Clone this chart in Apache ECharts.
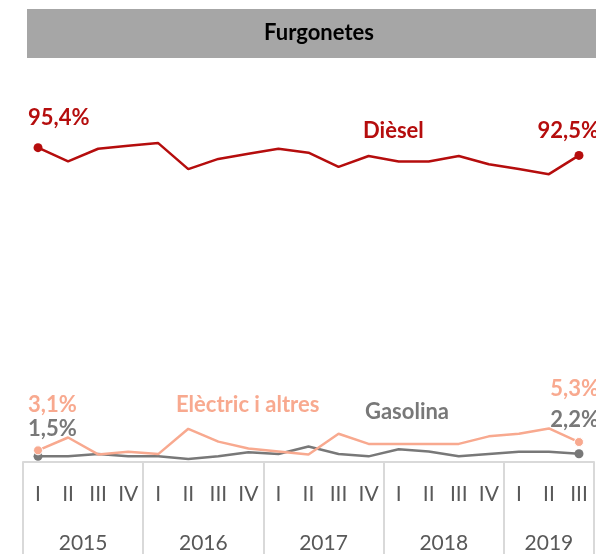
<!DOCTYPE html>
<html>
<head>
<meta charset="utf-8">
<script src="https://cdn.jsdelivr.net/npm/echarts@6/dist/echarts.min.js"></script>
<style>
  html, body { margin: 0; padding: 0; background: #fff; }
  #mainChart { width: 596px; height: 554px; }
</style>
</head>
<body>
<div id="mainChart"></div>
<script>
// trimestres i anys
var quarters = ['I','II','III','IV','I','II','III','IV','I','II','III','IV','I','II','III','IV','I','II','III'];
var years = ['2015','2016','2017','2018','2019'];
var yearCenters = [2, 6, 10, 14, 17.5];
var yearBounds = [0, 4, 8, 12, 16, 19];

// quota (%) per tipus de combustible
var diesel = [95.4, 90.3, 95.0, 96.1, 97.1, 87.4, 91.2, 93.1, 95.0, 93.5, 88.2, 92.3, 90.2, 90.2, 92.3, 89.2, 87.4, 85.5, 92.5];
var electric = [3.1, 6.5, 2.0, 2.7, 2.1, 8.8, 5.4, 3.6, 2.8, 2.0, 7.5, 4.8, 4.8, 4.8, 4.8, 6.8, 7.5, 8.9, 5.3];
var gasolina = [1.5, 1.5, 2.1, 1.5, 1.5, 0.8, 1.5, 2.6, 2.1, 4.1, 2.1, 1.5, 3.4, 2.8, 1.5, 2.1, 2.7, 2.7, 2.2];

var fontF = 'Lato, "Open Sans", sans-serif';
var cDiesel = '#b50d0d';
var cElec = '#f8a98f';
var cGas = '#787878';

function fmt(v) {
  return v.toFixed(1).replace('.', ',') + '%';
}

// només el primer i l'últim punt porten etiqueta
function withEnds(values, color, firstDy, lastDy) {
  var last = values.length - 1;
  return values.map(function (v, i) {
    if (i === 0 || i === last) {
      return {
        value: v,
        label: {
          show: true,
          position: 'inside',
          align: i === 0 ? 'left' : 'right',
          verticalAlign: 'middle',
          offset: i === 0 ? [-10, firstDy] : [20, lastDy],
          formatter: fmt(v),
          color: color,
          fontFamily: fontF,
          fontWeight: 'bold',
          fontSize: 22
        }
      };
    }
    return v;
  });
}

function endSize(v, params) {
  return (params.dataIndex === 0 || params.dataIndex === quarters.length - 1) ? 9 : 0;
}

var mainChart = echarts.init(document.getElementById('mainChart'));
mainChart.setOption({
  backgroundColor: '#fff',
  animation: false,
  graphic: [
    {
      type: 'rect',
      shape: { x: 27, y: 9, width: 569, height: 49 },
      style: { fill: '#a6a6a6' }
    },
    {
      type: 'text',
      x: 319, y: 33,
      style: {
        text: 'Furgonetes', fill: '#000', font: 'bold 22px ' + fontF,
        textAlign: 'center', textVerticalAlign: 'middle'
      }
    },
    {
      type: 'text',
      x: 363, y: 131,
      style: {
        text: 'Dièsel', fill: cDiesel, font: 'bold 22px ' + fontF,
        textAlign: 'left', textVerticalAlign: 'middle'
      }
    },
    {
      type: 'text',
      x: 176, y: 405,
      style: {
        text: 'Elèctric i altres', fill: cElec, font: 'bold 22px ' + fontF,
        textAlign: 'left', textVerticalAlign: 'middle'
      }
    },
    {
      type: 'text',
      x: 365, y: 412,
      style: {
        text: 'Gasolina', fill: cGas, font: 'bold 22px ' + fontF,
        textAlign: 'left', textVerticalAlign: 'middle'
      }
    }
  ],
  grid: { left: 23, right: 2, top: 85, bottom: 89 },
  xAxis: [
    {
      type: 'category',
      data: quarters,
      boundaryGap: true,
      axisLine: { show: true, onZero: false, lineStyle: { color: '#d9d9d9', width: 2 } },
      axisTick: { show: false },
      axisLabel: {
        interval: 0, margin: 22, color: '#595959',
        fontFamily: fontF, fontSize: 21
      }
    },
    {
      type: 'value',
      position: 'bottom',
      min: 0,
      max: 19,
      splitLine: { show: false },
      axisLine: { show: false, onZero: false },
      axisTick: {
        show: true, customValues: yearBounds, length: 92,
        lineStyle: { color: '#d9d9d9', width: 2 }
      },
      axisLabel: {
        customValues: yearCenters, margin: 71, color: '#595959',
        fontFamily: fontF, fontSize: 21,
        formatter: function (v) {
          return years[yearCenters.indexOf(v)];
        }
      }
    }
  ],
  yAxis: [
    { type: 'value', min: 0, max: 100, show: false },
    { type: 'value', min: -22, max: 118.8, show: false }
  ],
  series: [
    {
      name: 'Gasolina',
      type: 'line',
      yAxisIndex: 0,
      data: withEnds(gasolina, cGas, -27, -34),
      symbol: 'circle',
      symbolSize: endSize,
      itemStyle: { color: cGas },
      lineStyle: { color: cGas, width: 2.5 },
      z: 2
    },
    {
      name: 'Elèctric i altres',
      type: 'line',
      yAxisIndex: 0,
      data: withEnds(electric, cElec, -45, -53),
      symbol: 'circle',
      symbolSize: endSize,
      itemStyle: { color: cElec, borderColor: '#fff', borderWidth: 1 },
      lineStyle: { color: cElec, width: 2.5 },
      z: 3
    },
    {
      name: 'Dièsel',
      type: 'line',
      yAxisIndex: 1,
      data: withEnds(diesel, cDiesel, -30, -25),
      symbol: 'circle',
      symbolSize: endSize,
      itemStyle: { color: cDiesel },
      lineStyle: { color: cDiesel, width: 2.5 },
      z: 4
    }
  ]
});
</script>
</body>
</html>
